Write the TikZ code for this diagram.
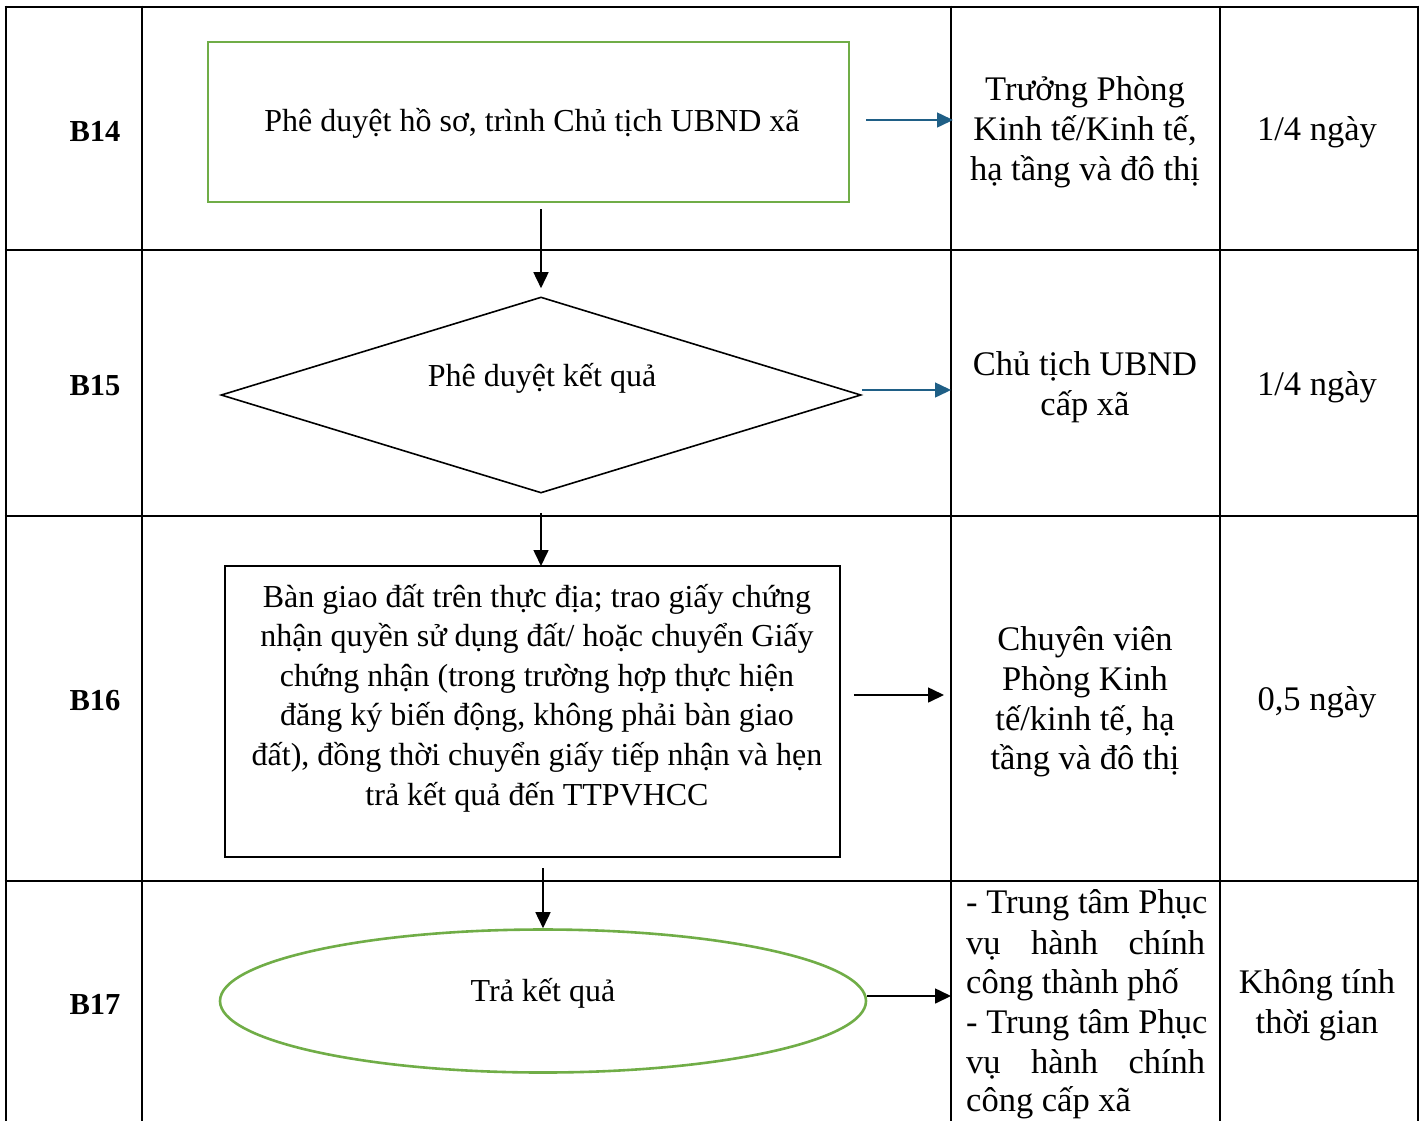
\documentclass[tikz,border=0pt]{standalone}
\usepackage{fontspec}
\setmainfont{Liberation Serif}
\usetikzlibrary{arrows.meta,shapes.geometric}
\definecolor{gboxc}{HTML}{70AD47}
\definecolor{tealc}{HTML}{1F5F86}
\tikzset{
  grid/.style={line width=2.6pt,black},
  gbox/.style={draw=gboxc,line width=2.6pt,inner sep=0pt},
  bbox/.style={draw=black,line width=1.8pt,inner sep=0pt},
  midtxt/.style={align=center,inner sep=0pt,font=\fontsize{32}{39.6}\selectfont},
  rtxt/.style={align=center,inner sep=0pt,font=\fontsize{34.5}{39.8}\selectfont},
  blab/.style={inner sep=0pt,font=\fontsize{30.5}{36}\selectfont\bfseries},
  barr/.style={line width=1.6pt,-{Triangle[length=16pt,width=15pt]}},
  tarr/.style={line width=1.5pt,tealc,-{Triangle[length=16pt,width=15pt]}},
}
\begin{document}
\begin{tikzpicture}[x=1pt,y=-1pt]
\useasboundingbox (0,0) rectangle (1424,1120);
% table
\foreach \xx in {6,142,951,1220,1418} \draw[grid] (\xx,5.7) -- (\xx,1122);
\foreach \yy in {7,250,516,881} \draw[grid] (4.7,\yy) -- (1419.3,\yy);
% step labels
\node[blab] (b14) at (95,131) {B14};
\node[blab] (b15) at (95,386) {B15};
\node[blab] (b16) at (95,701) {B16};
\node[blab] (b17) at (95,1004) {B17};
% B14
\node[gbox,minimum width=641pt,minimum height=160pt] (r14) at (528.5,122) {};
\node[midtxt] (t14) at (532,123) {Phê duyệt hồ sơ, trình Chủ tịch UBND xã};
\coordinate (a14) at (953,120);
\draw[tarr,shorten <=16pt] (r14.east |- a14) -- (a14);
\node[rtxt] (p14) at (1085,132) {Trưởng Phòng\\Kinh tế/Kinh tế,\\hạ tầng và đô thị};
\node[rtxt] (q14) at (1317,132) {1/4 ngày};
% B15
\node[draw=black,line width=1.6pt,diamond,inner sep=0pt,minimum width=640pt,minimum height=196pt] (d15) at (541,395) {};
\node[midtxt] (t15) at (542,378) {Phê duyệt kết quả};
\draw[barr,shorten <=6pt,shorten >=8pt] (d15.north |- r14.south) -- (d15.north);
\coordinate (a15) at (951,390);
\draw[tarr] (d15.east |- a15) -- (a15);
\node[rtxt] (p15) at (1085,387) {Chủ tịch UBND\\cấp xã};
\node[rtxt] (q15) at (1317,387) {1/4 ngày};
% B16
\node[bbox,minimum width=615pt,minimum height=291pt] (r16) at (532.5,711.5) {};
\node[midtxt] (t16) at (537,698) {Bàn giao đất trên thực địa; trao giấy chứng\\nhận quyền sử dụng đất/ hoặc chuyển Giấy\\chứng nhận (trong trường hợp thực hiện\\đăng ký biến động, không phải bàn giao\\đất), đồng thời chuyển giấy tiếp nhận và hẹn\\trả kết quả đến TTPVHCC};
\coordinate (c16) at (541,566);
\draw[barr,shorten <=19pt] (d15.south -| c16) -- (c16);
\coordinate (a16) at (944,695);
\draw[barr,shorten <=13pt] (r16.east |- a16) -- (a16);
\node[rtxt] (p16) at (1085,702) {Chuyên viên\\Phòng Kinh\\tế/kinh tế, hạ\\tầng và đô thị};
\node[rtxt] (q16) at (1317,702) {0,5 ngày};
% B17
\node[draw=gboxc,line width=2.6pt,ellipse,inner sep=0pt,minimum width=646pt,minimum height=143pt] (e17) at (543,1001) {};
\node[midtxt] (t17) at (543,993) {Trả kết quả};
\coordinate (c17) at (543,857);
\draw[barr,shorten <=11pt] (c17) -- (e17.north);
\coordinate (a17) at (951,996);
\draw[barr] (e17.east |- a17) -- (a17);
\node[rtxt,anchor=west] (p17a) at (966,905) {- Trung tâm Phục};
\node[rtxt,anchor=west] (p17b) at (966,945) {\makebox[239pt][s]{vụ\hfill hành\hfill chính}};
\node[rtxt,anchor=west] (p17c) at (966,985) {công thành phố};
\node[rtxt,anchor=west] (p17d) at (966,1025) {- Trung tâm Phục};
\node[rtxt,anchor=west] (p17e) at (966,1064) {\makebox[239pt][s]{vụ\hfill hành\hfill chính}};
\node[rtxt,anchor=west] (p17f) at (966,1103) {công cấp xã};
\node[rtxt] (q17) at (1317,1005) {Không tính\\thời gian};
\end{tikzpicture}
\end{document}
